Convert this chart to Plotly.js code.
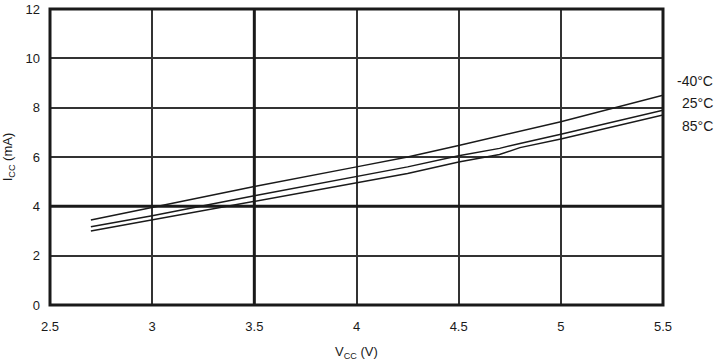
<!DOCTYPE html>
<html>
<head>
<script src="https://cdn.plot.ly/plotly-3.0.1.min.js"></script>
<style>html,body{margin:0;padding:0;background:#fff;}</style>
</head>
<body>
<div id="chart" style="width:717px;height:361px;"></div>
<script>
const vcc = [2.7, 3, 3.5, 4, 4.25, 4.5, 4.7, 4.8, 5, 5.5];
const icc_m40 = [3.45, 3.95, 4.8, 5.6, 6.0, 6.47, 6.85, 7.05, 7.43, 8.5];
const icc_25 = [3.17, 3.62, 4.43, 5.2, 5.6, 6.05, 6.35, 6.55, 6.92, 7.9];
const icc_85 = [3.0, 3.45, 4.19, 4.96, 5.33, 5.8, 6.1, 6.38, 6.73, 7.7];
const seriesLabels = ['-40°C', '25°C', '85°C'];
const labelY = [9.08, 8.19, 7.26];
const xTicks = [2.5, 3, 3.5, 4, 4.5, 5, 5.5];
const yTicks = [0, 2, 4, 6, 8, 10, 12];

const lineStyle = {color: '#1a1a1a', width: 1.5};
const traces = [icc_m40, icc_25, icc_85].map((y, i) => ({
  x: vcc, y: y, type: 'scatter', mode: 'lines', name: seriesLabels[i],
  line: lineStyle, hoverinfo: 'skip'
}));

const shapes = [
  {type: 'line', xref: 'x', yref: 'paper', x0: 3.5, x1: 3.5, y0: 0, y1: 1, line: {color: '#1a1a1a', width: 3}},
  {type: 'line', xref: 'paper', yref: 'y', x0: 0, x1: 1, y0: 4, y1: 4, line: {color: '#1a1a1a', width: 3}},
  {type: 'rect', xref: 'paper', yref: 'paper', x0: 0, x1: 1, y0: 0, y1: 1, line: {color: '#1a1a1a', width: 3}}
];

const annotations = seriesLabels.map((t, i) => ({
  text: t, xref: 'paper', yref: 'y', x: 1, y: labelY[i], xanchor: 'right', yanchor: 'middle',
  xshift: 52, showarrow: false, font: {family: 'Liberation Sans, Arial, sans-serif', size: 14, color: '#1a1a1a'}
}));

const font = {family: 'Liberation Sans, Arial, sans-serif', size: 13, color: '#1a1a1a'};
const layout = {
  width: 717, height: 361,
  margin: {l: 50, r: 54, t: 9, b: 56},
  paper_bgcolor: '#fff', plot_bgcolor: '#fff',
  showlegend: false,
  font: font,
  xaxis: {
    range: [2.5, 5.5], tickvals: xTicks, ticktext: xTicks.map(String),
    showgrid: true, gridcolor: '#333333', gridwidth: 2, zeroline: false,
    ticks: '', tickfont: font, showline: false, ticklabelstandoff: 12,
    title: {text: 'V<sub>CC</sub> (V)', font: font, standoff: 14}
  },
  yaxis: {
    range: [0, 12], tickvals: yTicks, ticktext: yTicks.map(String),
    showgrid: true, gridcolor: '#333333', gridwidth: 2, zeroline: false,
    ticks: '', tickfont: font, showline: false, ticklabelstandoff: 9,
    title: {text: 'I<sub>CC</sub> (mA)', font: font, standoff: 10}
  },
  shapes: shapes,
  annotations: annotations
};
Plotly.newPlot('chart', traces, layout, {displayModeBar: false, staticPlot: true});
</script>
</body>
</html>
